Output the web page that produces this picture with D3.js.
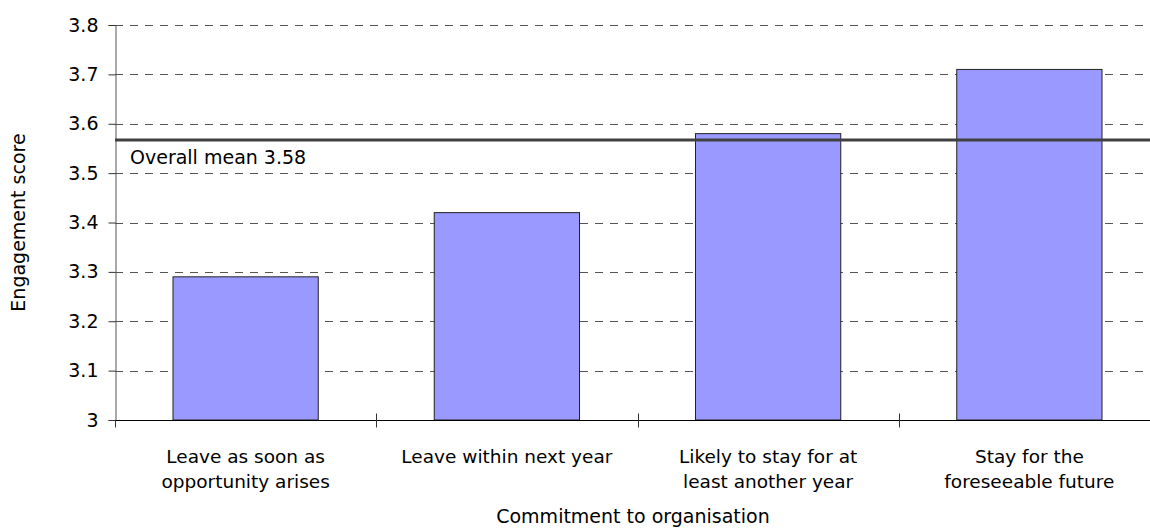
<!DOCTYPE html>
<html><head><meta charset="utf-8">
<script src="https://cdn.jsdelivr.net/npm/d3@7"></script>
<style>body{margin:0;background:#fff}text{font-family:"DejaVu Sans",sans-serif;fill:#000}</style>
</head><body><svg id="c" width="1150" height="529"></svg>
<script>
const categories = [["Leave as soon as","opportunity arises"],["Leave within next year"],["Likely to stay for at","least another year"],["Stay for the","foreseeable future"]];
const values = [3.29, 3.42, 3.58, 3.71];
const yTicks = [3, 3.1, 3.2, 3.3, 3.4, 3.5, 3.6, 3.7, 3.8];
const meanValue = 3.567;
const meanLabel = "Overall mean 3.58";
const yTitle = "Engagement score";
const xTitle = "Commitment to organisation";

(function(){
const svg = d3.select("#c");
const mLeft = 115, mRight = 1160, mTop = 25, mBottom = 420;
const x = d3.scaleBand().domain(d3.range(categories.length)).range([mLeft, mRight]).padding(0);
const y = d3.scaleLinear().domain([3, 3.8]).range([mBottom, mTop]);

// gridlines
svg.append("g").selectAll("line").data(yTicks.filter(t => t > 3)).join("line")
  .attr("x1", mLeft).attr("x2", 1150)
  .attr("y1", d => Math.round(y(d)) + 0.5).attr("y2", d => Math.round(y(d)) + 0.5)
  .attr("stroke", "#555").attr("stroke-width", 1).attr("stroke-dasharray", "8,7");

// bars
const bw = x.bandwidth() * 0.556;
svg.append("g").selectAll("rect").data(values).join("rect")
  .attr("x", (d, i) => x(i) + (x.bandwidth() - bw) / 2)
  .attr("y", d => y(d))
  .attr("width", bw)
  .attr("height", d => mBottom - y(d))
  .attr("fill", "#9999ff").attr("stroke", "#222").attr("stroke-width", 1);

// y axis
const yAxis = d3.axisLeft(y).tickValues(yTicks).tickSize(7).tickPadding(10)
  .tickFormat(d => d === 3 ? "3" : d3.format(".1f")(d));
const gy = svg.append("g").attr("transform", `translate(${mLeft + 0.5},0)`).call(yAxis);
gy.select(".domain").attr("stroke", "#555");
gy.selectAll(".tick line").attr("stroke", "#333");
gy.selectAll(".tick text").attr("font-size", 19).attr("font-family", "DejaVu Sans");

// x axis
const gx = svg.append("g").attr("transform", `translate(0,${mBottom + 0.5})`);
gx.append("line").attr("x1", mLeft).attr("x2", 1150).attr("stroke", "#000");
gx.selectAll(".tk").data(d3.range(categories.length + 1)).join("line").attr("class", "tk")
  .attr("x1", i => Math.round(mLeft + i * x.bandwidth()) + 0.5)
  .attr("x2", i => Math.round(mLeft + i * x.bandwidth()) + 0.5)
  .attr("y1", i => i === 0 ? 0 : -7).attr("y2", 7)
  .attr("stroke", "#333");
categories.forEach((lines, i) => {
  const cx = x(i) + x.bandwidth() / 2;
  const t = svg.append("text").attr("text-anchor", "middle").attr("font-size", 18.5)
    .attr("x", cx).attr("y", 463);
  lines.forEach((l, j) => t.append("tspan").attr("x", cx).attr("dy", j === 0 ? 0 : 25).text(l));
});

// mean line
svg.append("line").attr("x1", mLeft).attr("x2", 1150).attr("y1", y(meanValue)).attr("y2", y(meanValue))
  .attr("stroke", "#404040").attr("stroke-width", 3);
svg.append("text").attr("x", 130).attr("y", 164).attr("font-size", 19).text(meanLabel);

// titles
svg.append("text").attr("transform", `translate(25,${(mTop + mBottom) / 2}) rotate(-90)`)
  .attr("text-anchor", "middle").attr("font-size", 19).text(yTitle);
svg.append("text").attr("x", 633).attr("y", 523).attr("text-anchor", "middle").attr("font-size", 19).text(xTitle);
})();
</script></body></html>
